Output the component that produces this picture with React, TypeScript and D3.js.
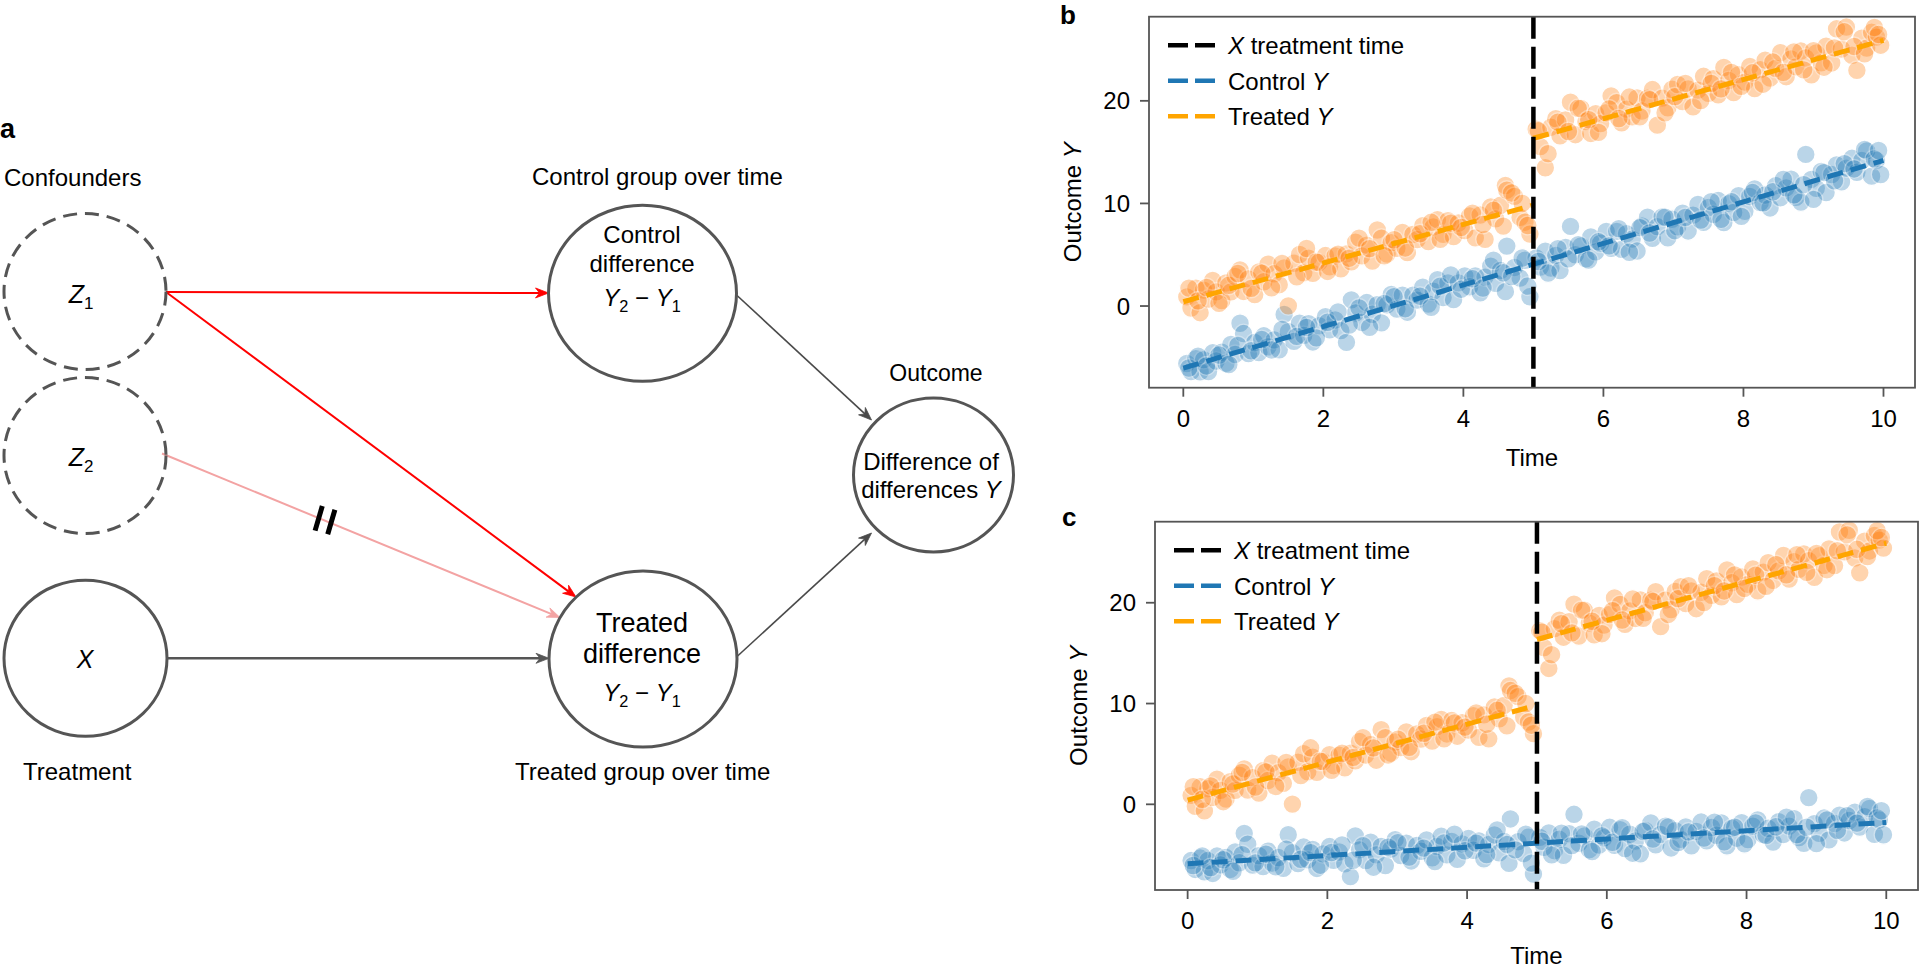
import React from 'react';
import * as d3 from 'd3';

// ---------------- DATA ----------------
const times: number[] = [
  0.05, 0.11, 0.18, 0.24, 0.29, 0.36, 0.42, 0.47, 0.55, 0.61, 0.68, 0.74, 0.81, 0.86, 0.93,
  1.02, 1.08, 1.15, 1.21, 1.30, 1.37, 1.44, 1.50, 1.58, 1.66, 1.72, 1.79, 1.85, 1.94,
  2.03, 2.09, 2.17, 2.25, 2.33, 2.40, 2.46, 2.55, 2.62, 2.70, 2.77, 2.83, 2.91, 2.97,
  3.05, 3.13, 3.20, 3.28, 3.34, 3.42, 3.50, 3.57, 3.63, 3.71, 3.78, 3.86, 3.93,
  4.02, 4.09, 4.17, 4.24, 4.31, 4.39, 4.46, 4.53, 4.60, 4.62, 4.73, 4.81, 4.88, 4.95,
  5.04, 5.10, 5.17, 5.25, 5.32, 5.38, 5.46, 5.53, 5.60, 5.68, 5.75, 5.82, 5.89, 5.96,
  6.04, 6.11, 6.19, 6.26, 6.33, 6.41, 6.48, 6.55, 6.63, 6.70, 6.77, 6.84, 6.92, 6.98,
  7.06, 7.13, 7.21, 7.28, 7.35, 7.43, 7.50, 7.57, 7.64, 7.72, 7.79, 7.86, 7.93,
  8.02, 8.09, 8.16, 8.24, 8.31, 8.38, 8.46, 8.53, 8.61, 8.68, 8.75, 8.82, 8.89, 8.97,
  9.04, 9.11, 9.18, 9.26, 9.33, 9.40, 9.47, 9.55, 9.62, 9.69, 9.76, 9.83, 9.90, 9.96,
  // second batch
  0.08, 0.21, 0.33, 0.51, 0.65, 0.78, 0.97,
  1.12, 1.26, 1.41, 1.62, 1.76, 1.90,
  2.06, 2.21, 2.37, 2.51, 2.66, 2.87,
  3.01, 3.17, 3.38, 3.54, 3.67, 3.82, 3.97,
  4.13, 4.28, 4.43, 4.57, 4.69, 4.84, 4.92,
  5.07, 5.21, 5.35, 5.50, 5.64, 5.79, 5.93,
  6.08, 6.22, 6.37, 6.52, 6.66, 6.88,
  7.02, 7.17, 7.39, 7.54, 7.68, 7.83, 7.97,
  8.13, 8.28, 8.42, 8.57, 8.72, 8.86,
  9.00, 9.15, 9.30, 9.44, 9.58, 9.73, 9.87, 9.93,
];

const controlB: number[] = [
  -5.6, -6.38, -5.14, -6.42, -5.22, -6.38, -4.56, -5.36, -4.5, -5.58, -3.74, -4.72, -1.68, -2.68, -4.64,
  -3.56, -4.54, -2.9, -3.98, -3.3, -4.26, -0.82, -2.5, -3.44, -1.68, -2.86, -1.72, -3.5, -1.92,
  -1.04, -2.32, -1.36, -2.4, -3.54, 0.6, -0.68, -1.6, 0.34, -0.8, 0.14, -1.64, 0.12, 1.14,
  -0.3, 1.06, -0.6, 1.06, 0.58, 1.84, 0.2, 1.44, 2.56, 0.82, 2.26, 0.62, 2.26,
  2.94, 1.88, 2.94, 1.28, 2.82, 3.88, 2.22, 3.46, 1.4, 5.84, 3.76, 2.72, 4.46, 0.9,
  4.68, 3.8, 5.34, 3.7, 4.94, 3.46, 5.72, 7.76, 5.0, 5.86, 4.6, 6.74, 5.28, 6.12,
  7.28, 5.62, 7.28, 5.52, 7.06, 6.52, 5.36, 7.8, 8.66, 6.6, 7.74, 8.68, 6.64, 8.46,
  7.72, 9.06, 7.32, 8.86, 9.9, 8.16, 9.6, 8.94, 10.28, 8.14, 9.98, 9.12, 10.76,
  9.24, 10.68, 11.42, 10.08, 10.82, 9.56, 11.72, 10.56, 11.52, 12.36, 10.6, 10.14, 14.78, 12.34,
  11.48, 13.12, 11.06, 12.82, 13.76, 12.1, 13.44, 14.4, 13.04, 14.18, 15.12, 12.66, 14.2, 12.82,
  -6.04, -4.88, -5.84, -4.78, -5.7, -3.84, -4.36,
  -3.26, -4.28, -2.28, -2.96, -2.08, -3.1,
  -1.58, -0.58, -1.86, -0.18, -2.08, 0.24,
  0.92, -0.26, 0.96, -0.12, 1.94, 3.04, 1.64,
  2.66, 1.76, 4.46, 3.24, 2.88, 4.68, 1.94,
  4.34, 3.22, 5.6, 4.6, 5.98, 4.48, 6.26,
  5.86, 7.54, 5.24, 7.64, 7.12, 8.66,
  7.34, 8.64, 8.38, 10.18, 8.46, 10.16, 8.74,
  11.06, 10.06, 11.14, 12.34, 10.84, 11.82,
  10.4, 13.0, 12.2, 13.88, 13.36, 15.26, 14.34, 15.16,
];

const controlC: number[] = [
  -5.58, -6.46, -5.33, -6.7, -5.58, -6.86, -5.13, -6.01, -5.28, -6.46, -4.73, -5.8, -2.88, -3.96, -6.03,
  -5.09, -6.17, -4.64, -5.82, -5.28, -6.35, -3.02, -4.8, -5.87, -4.24, -5.51, -4.48, -6.36, -4.92,
  -4.19, -5.56, -4.73, -5.9, -7.17, -3.14, -4.52, -5.58, -3.75, -5.02, -4.19, -6.07, -4.44, -3.51,
  -5.08, -3.85, -5.62, -4.09, -4.66, -3.53, -5.3, -4.17, -3.15, -5.02, -3.69, -5.46, -3.93,
  -3.39, -4.56, -3.63, -5.4, -3.98, -3.04, -4.82, -3.69, -5.86, -1.45, -3.71, -4.88, -3.25, -6.92,
  -3.28, -4.26, -2.83, -4.6, -3.47, -5.05, -2.92, -0.99, -3.86, -3.13, -4.5, -2.47, -4.04, -3.32,
  -2.28, -4.06, -2.52, -4.4, -2.97, -3.64, -4.91, -2.58, -1.85, -4.02, -2.99, -2.16, -4.33, -2.61,
  -3.48, -2.25, -4.12, -2.69, -1.76, -3.63, -2.3, -3.07, -1.84, -4.11, -2.38, -3.36, -1.83,
  -3.49, -2.16, -1.54, -3.0, -2.38, -3.75, -1.72, -2.99, -2.16, -1.43, -3.3, -3.87, 0.66, -1.91,
  -2.88, -1.36, -3.53, -1.9, -1.07, -2.84, -1.61, -0.78, -2.25, -1.22, -0.4, -2.97, -1.54, -3.02,
  -6.07, -5.12, -6.27, -5.5, -6.64, -4.99, -5.81,
  -4.95, -6.2, -4.44, -5.45, -4.8, -6.04,
  -4.78, -4.02, -5.55, -4.1, -6.24, -4.25,
  -3.8, -5.23, -4.35, -5.68, -3.83, -2.97, -4.61,
  -3.85, -4.99, -2.53, -3.97, -4.52, -2.96, -5.83,
  -3.67, -5.02, -2.86, -4.1, -2.94, -4.68, -3.13,
  -3.77, -2.31, -4.85, -2.69, -3.44, -2.25,
  -3.79, -2.73, -3.34, -1.78, -3.73, -2.27, -3.91,
  -1.85, -3.09, -2.23, -1.27, -3.01, -2.26,
  -3.9, -1.54, -2.58, -1.12, -1.87, -0.21, -1.35, -0.63,
];

const treated: number[] = [
  0.89, -0.19, 1.74, -0.65, 1.55, 0.68, 2.49, 1.38, 0.53, 2.25, 1.38, 2.89, 3.52, 1.42, 2.65,
  1.12, 3.33, 2.36, 4.08, 3.14, 2.08, 3.71, 0.02, 4.17, 5.02, 3.23, 4.67, 3.18, 4.25,
  4.92, 3.83, 4.88, 3.63, 5.08, 4.31, 6.23, 4.89, 5.93, 4.38, 7.41, 6.62, 5.07, 6.18,
  5.63, 7.18, 5.22, 6.97, 6.48, 7.83, 6.28, 7.71, 8.42, 6.98, 8.31, 6.76, 8.09,
  7.36, 8.79, 6.64, 8.87, 6.5, 9.65, 8.49, 9.82, 11.75, 11.29, 10.69, 8.64, 8.17, 7.01,
  17.23, 15.54, 13.48, 17.43, 18.26, 16.58, 18.13, 19.86, 16.7, 19.25, 17.98, 16.82, 18.75, 17.78,
  18.84, 20.47, 19.82, 17.86, 19.19, 18.44, 20.28, 19.01, 20.26, 21.1, 17.63, 20.26, 19.32, 21.13,
  21.59, 19.92, 21.17, 19.41, 21.04, 22.39, 20.73, 22.16, 20.59, 23.25, 21.98, 20.81, 22.55,
  21.82, 23.35, 21.19, 23.04, 23.97, 22.21, 23.16, 24.69, 22.35, 24.08, 23.31, 24.85, 24.18, 22.53,
  24.67, 23.7, 25.33, 23.69, 27.02, 25.05, 27.19, 24.44, 22.97, 26.11, 25.14, 26.68, 26.21, 25.42,
  1.75, 0.5, 1.82, 0.26, 2.02, 3.17, 1.72,
  3.21, 1.77, 4.15, 2.85, 5.61, 4.27,
  3.37, 5.06, 4.66, 6.62, 5.6, 4.9,
  6.46, 5.66, 7.05, 8.16, 6.5, 8.08, 7.66,
  9.06, 7.95, 9.33, 7.79, 11.02, 10.0, 7.85,
  17.08, 14.85, 17.92, 17.01, 19.27, 18.16, 16.93,
  19.21, 18.28, 20.37, 18.45, 20.12, 18.84,
  20.41, 21.7, 20.02, 21.7, 21.17, 22.76, 21.42,
  22.73, 21.62, 23.78, 22.77, 24.76, 23.02,
  24.89, 23.28, 25.16, 26.73, 25.3, 24.58, 27.15, 26.47,
];

// fitted (dashed) lines: [time, outcome]
const controlFitB: [number, number][] = [[0, -6.05], [10, 14.2]];
const controlFitC: [number, number][] = [[0, -5.9], [10, -1.8]];
const treatedFitPre: [number, number][] = [[0, 0.42], [5, 9.84]];
const treatedFitPost: [number, number][] = [[5, 16.35], [10, 25.9]];
const treatmentTime = 5;

const xTicks = [0, 2, 4, 6, 8, 10];
const yTicks = [0, 10, 20];

// ---------------- STYLE ----------------
const FONT = '"Liberation Sans", Arial, Helvetica, sans-serif';
const BLUE = '#1f77b4';
const ORANGE_PT = '#ff7f0e';
const ORANGE_LINE = '#ffa500';
const NODE = '#555555';

type Frame = { x0: number; x1: number; y0: number; y1: number };

function arrowPath(x1: number, y1: number, x2: number, y2: number, len = 13, half = 5, back = 9) {
  const dx = x2 - x1, dy = y2 - y1;
  const L = Math.hypot(dx, dy);
  const ux = dx / L, uy = dy / L;
  const nx = -uy, ny = ux;
  const p = (a: number, b: number) => `${x2 - ux * a + nx * b},${y2 - uy * a + ny * b}`;
  return {
    head: `M${x2},${y2} L${p(len, half)} L${p(back, 0)} L${p(len, -half)} Z`,
    end: [x2 - ux * back, y2 - uy * back],
  };
}

function Arrow({ from, to, color, width }: { from: number[]; to: number[]; color: string; width: number }) {
  const a = arrowPath(from[0], from[1], to[0], to[1]);
  return (
    <g>
      <line x1={from[0]} y1={from[1]} x2={a.end[0]} y2={a.end[1]} stroke={color} strokeWidth={width} />
      <path d={a.head} fill={color} stroke={color} strokeWidth={0.8} strokeLinejoin="miter" />
    </g>
  );
}

function YDiff({ x, y, size = 24 }: { x: number; y: number; size?: number }) {
  return (
    <text x={x} y={y} textAnchor="middle" fontSize={size} fontFamily={FONT}>
      <tspan fontStyle="italic">Y</tspan>
      <tspan fontSize={size * 0.68} dy={6}>2</tspan>
      <tspan dy={-6}> − </tspan>
      <tspan fontStyle="italic">Y</tspan>
      <tspan fontSize={size * 0.68} dy={6}>1</tspan>
    </text>
  );
}

function Diagram() {
  const nodes = {
    z1: { cx: 85, cy: 291.5, rx: 81, ry: 78 },
    z2: { cx: 85, cy: 455.5, rx: 81, ry: 78 },
    x: { cx: 85.5, cy: 658.3, rx: 81.5, ry: 78 },
    control: { cx: 642.5, cy: 293.3, rx: 94, ry: 88 },
    treated: { cx: 643, cy: 659, rx: 94, ry: 88 },
    outcome: { cx: 933.5, cy: 475, rx: 80, ry: 77 },
  };
  const bars = [
    [318.7, 518.3],
    [331.3, 522],
  ];
  return (
    <g fontFamily={FONT}>
      <text x={0} y={138} fontSize={27} fontWeight={700}>a</text>
      <text x={4} y={186} fontSize={24}>Confounders</text>
      <text x={23} y={780} fontSize={24}>Treatment</text>
      <text x={532} y={185} fontSize={24}>Control group over time</text>
      <text x={515} y={780} fontSize={24}>Treated group over time</text>
      <text x={936} y={381} fontSize={23} textAnchor="middle">Outcome</text>

      {/* edges */}
      <Arrow from={[166, 292]} to={[548.5, 293]} color="#ff0000" width={2} />
      <Arrow from={[166, 292]} to={[576, 597]} color="#ff0000" width={2} />
      <Arrow from={[162, 453.5]} to={[560, 617.5]} color="#f3a3a3" width={2} />
      <Arrow from={[167, 658.3]} to={[549, 658.3]} color="#555555" width={2.5} />
      <Arrow from={[736.5, 295]} to={[871.5, 420]} color="#4a4a4a" width={1.6} />
      <Arrow from={[736.5, 657]} to={[871.5, 533]} color="#4a4a4a" width={1.6} />
      {bars.map(([cx, cy], i) => (
        <line key={i} x1={cx + 3.6} y1={cy - 12.3} x2={cx - 3.6} y2={cy + 12.3} stroke="#000" strokeWidth={5} />
      ))}

      {/* nodes */}
      {[nodes.z1, nodes.z2].map((n, i) => (
        <ellipse key={i} cx={n.cx} cy={n.cy} rx={n.rx} ry={n.ry} fill="none" stroke={NODE} strokeWidth={3} strokeDasharray="14 8" />
      ))}
      {[nodes.x, nodes.control, nodes.treated, nodes.outcome].map((n, i) => (
        <ellipse key={i} cx={n.cx} cy={n.cy} rx={n.rx} ry={n.ry} fill="none" stroke={NODE} strokeWidth={3} />
      ))}

      {/* node labels */}
      <text x={81} y={303} fontSize={25} textAnchor="middle">
        <tspan fontStyle="italic">Z</tspan>
        <tspan fontSize={17} dy={6}>1</tspan>
      </text>
      <text x={81} y={466} fontSize={25} textAnchor="middle">
        <tspan fontStyle="italic">Z</tspan>
        <tspan fontSize={17} dy={6}>2</tspan>
      </text>
      <text x={85} y={668} fontSize={25} textAnchor="middle" fontStyle="italic">X</text>

      <text x={642} y={243} fontSize={24} textAnchor="middle">Control</text>
      <text x={642} y={272} fontSize={24} textAnchor="middle">difference</text>
      <YDiff x={642} y={306} />

      <text x={642} y={632} fontSize={27} textAnchor="middle">Treated</text>
      <text x={642} y={663} fontSize={27} textAnchor="middle">difference</text>
      <YDiff x={642} y={701} />

      <text x={931} y={470} fontSize={24} textAnchor="middle">Difference of</text>
      <text x={931} y={498} fontSize={24} textAnchor="middle">
        differences <tspan fontStyle="italic">Y</tspan>
      </text>
    </g>
  );
}

function Panel({
  frame, xDomain, yDomain, control, controlFit, letter, letterPos,
}: {
  frame: Frame; xDomain: [number, number]; yDomain: [number, number];
  control: number[]; controlFit: [number, number][]; letter: string; letterPos: [number, number];
}) {
  const x = d3.scaleLinear().domain(xDomain).range([frame.x0, frame.x1]);
  const y = d3.scaleLinear().domain(yDomain).range([frame.y1, frame.y0]);
  const line = d3.line<[number, number]>().x((d) => x(d[0])).y((d) => y(d[1]));
  const legend = [
    { color: '#000', parts: [['X', true], [' treatment time', false]] },
    { color: BLUE, parts: [['Control ', false], ['Y', true]] },
    { color: ORANGE_LINE, parts: [['Treated ', false], ['Y', true]] },
  ] as { color: string; parts: [string, boolean][] }[];
  const frameStroke = '#555';
  return (
    <g fontFamily={FONT}>
      <text x={letterPos[0]} y={letterPos[1]} fontSize={26} fontWeight={700}>{letter}</text>

      {/* points */}
      {times.map((t, i) => (
        <circle key={'c' + i} cx={x(t)} cy={y(control[i])} r={9.4} fill={BLUE} stroke="#fff" strokeWidth={1.4} opacity={0.3} />
      ))}
      {times.map((t, i) => (
        <circle key={'t' + i} cx={x(t)} cy={y(treated[i])} r={9.4} fill={ORANGE_PT} stroke="#fff" strokeWidth={1.4} opacity={0.33} />
      ))}

      {/* fitted lines */}
      <path d={line(controlFit) || ''} stroke={BLUE} strokeWidth={5} strokeDasharray="16 8" fill="none" />
      <path d={line(treatedFitPre) || ''} stroke={ORANGE_LINE} strokeWidth={5} strokeDasharray="16 8" fill="none" />
      <path d={line(treatedFitPost) || ''} stroke={ORANGE_LINE} strokeWidth={5} strokeDasharray="16 8" fill="none" />

      {/* treatment time */}
      <line x1={x(treatmentTime)} x2={x(treatmentTime)} y1={frame.y0} y2={frame.y1} stroke="#000" strokeWidth={4.5} strokeDasharray="22 8" />

      {/* frame */}
      <rect x={frame.x0} y={frame.y0} width={frame.x1 - frame.x0} height={frame.y1 - frame.y0} fill="none" stroke={frameStroke} strokeWidth={1.8} />

      {/* axes */}
      {xTicks.map((t) => (
        <g key={'xt' + t}>
          <line x1={x(t)} x2={x(t)} y1={frame.y1} y2={frame.y1 + 9} stroke={frameStroke} strokeWidth={1.8} />
          <text x={x(t)} y={frame.y1 + 39} fontSize={24} textAnchor="middle">{t}</text>
        </g>
      ))}
      {yTicks.map((t) => (
        <g key={'yt' + t}>
          <line x1={frame.x0 - 9} x2={frame.x0} y1={y(t)} y2={y(t)} stroke={frameStroke} strokeWidth={1.8} />
          <text x={frame.x0 - 19} y={y(t) + 8.5} fontSize={24} textAnchor="end">{t}</text>
        </g>
      ))}
      <text x={(frame.x0 + frame.x1) / 2} y={Math.min(frame.y1 + 78, 964)} fontSize={24} textAnchor="middle">Time</text>
      <text transform={`translate(${frame.x0 - 68},${(frame.y0 + frame.y1) / 2}) rotate(-90)`} fontSize={24} textAnchor="middle">
        Outcome <tspan fontStyle="italic">Y</tspan>
      </text>

      {/* legend */}
      {legend.map((l, i) => {
        const ly = frame.y0 + 28.5 + i * 35.5;
        return (
          <g key={'lg' + i}>
            <line x1={frame.x0 + 19} x2={frame.x0 + 66} y1={ly} y2={ly} stroke={l.color} strokeWidth={4.5} strokeDasharray="20 7" />
            <text x={frame.x0 + 79} y={ly + 9} fontSize={24}>
              {l.parts.map(([s, it], j) => (
                <tspan key={j} fontStyle={it ? 'italic' : 'normal'}>{s}</tspan>
              ))}
            </text>
          </g>
        );
      })}
    </g>
  );
}

export default function App() {
  return (
    <svg width={1920} height={969} style={{ position: 'absolute', left: 0, top: 0, background: '#fff' }}>
      <rect x={0} y={0} width={1920} height={969} fill="#fff" />
      <Diagram />
      <Panel
        frame={{ x0: 1149, x1: 1915, y0: 16.7, y1: 387.7 }}
        xDomain={[-0.49, 10.45]}
        yDomain={[-7.96, 28.2]}
        control={controlB}
        controlFit={controlFitB}
        letter="b"
        letterPos={[1060, 24]}
      />
      <Panel
        frame={{ x0: 1155, x1: 1918, y0: 521.7, y1: 890 }}
        xDomain={[-0.467, 10.454]}
        yDomain={[-8.5, 28.04]}
        control={controlC}
        controlFit={controlFitC}
        letter="c"
        letterPos={[1062, 526]}
      />
    </svg>
  );
}
